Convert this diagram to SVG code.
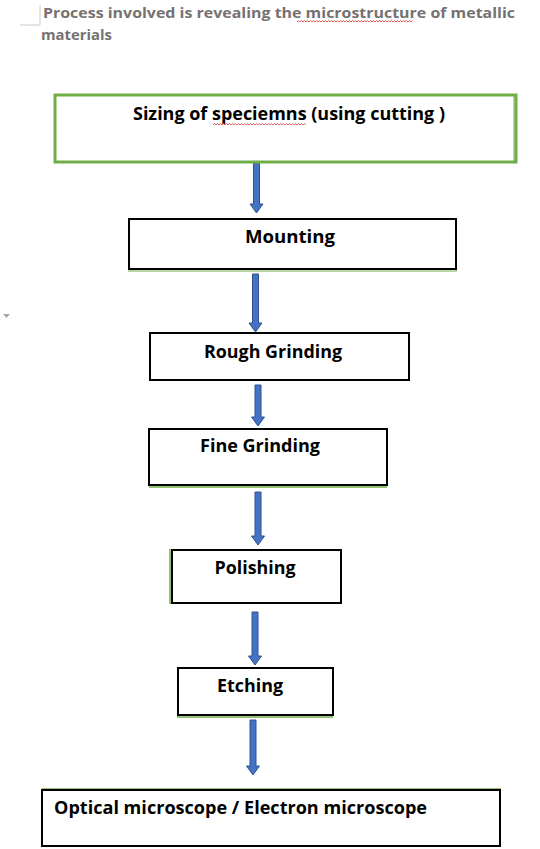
<svg xmlns="http://www.w3.org/2000/svg" width="540" height="849" viewBox="0 0 540 849">
<style>
.t{font-family:"Open Sans","Liberation Sans",Arial,sans-serif;font-weight:bold;font-size:18px;fill:#000}
.title{font-family:"Open Sans","Liberation Sans",Arial,sans-serif;font-weight:bold;font-size:15px;fill:#767171}
.box{fill:#fff;stroke:#000;stroke-width:2}
.g{stroke:#70AD47;fill:none}
.arr{fill:#4472C4;stroke:#2F528F;stroke-width:1}
.sq{fill:none;stroke:#E03030;stroke-width:0.8}
</style>
<rect width="540" height="849" fill="#fff"/>
<path d="M20,25 H40 V5" fill="none" stroke="#c8c8c8" stroke-width="1"/>
<path d="M3,314 H10 L6.5,318 Z" fill="#a6a6a6"/>
<g id="title">
<text class="title" x="43" y="18" textLength="472" lengthAdjust="spacingAndGlyphs">Process involved is revealing the microstructure of metallic</text>
<text class="title" x="41" y="40" textLength="71" lengthAdjust="spacingAndGlyphs">materials</text>
<path class="sq" d="M297,22 l1.5,-1.5 l1.5,1.5 l1.5,-1.5 l1.5,1.5 l1.5,-1.5 l1.5,1.5 l1.5,-1.5 l1.5,1.5 l1.5,-1.5 l1.5,1.5 l1.5,-1.5 l1.5,1.5 l1.5,-1.5 l1.5,1.5 l1.5,-1.5 l1.5,1.5 l1.5,-1.5 l1.5,1.5 l1.5,-1.5 l1.5,1.5 l1.5,-1.5 l1.5,1.5 l1.5,-1.5 l1.5,1.5 l1.5,-1.5 l1.5,1.5 l1.5,-1.5 l1.5,1.5 l1.5,-1.5 l1.5,1.5 l1.5,-1.5 l1.5,1.5 l1.5,-1.5 l1.5,1.5 l1.5,-1.5 l1.5,1.5 l1.5,-1.5 l1.5,1.5 l1.5,-1.5 l1.5,1.5 l1.5,-1.5 l1.5,1.5 l1.5,-1.5 l1.5,1.5 l1.5,-1.5 l1.5,1.5 l1.5,-1.5 l1.5,1.5 l1.5,-1.5 l1.5,1.5 l1.5,-1.5 l1.5,1.5 l1.5,-1.5 l1.5,1.5 l1.5,-1.5 l1.5,1.5 l1.5,-1.5 l1.5,1.5 l1.5,-1.5 l1.5,1.5 l1.5,-1.5 l1.5,1.5 l1.5,-1.5 l1.5,1.5 l1.5,-1.5 l1.5,1.5 l1.5,-1.5 l1.5,1.5 l1.5,-1.5 l1.5,1.5 l1.5,-1.5 l1.5,1.5 l1.5,-1.5 l1.5,1.5 l1.5,-1.5 l1.5,1.5 l1.5,-1.5"/>
</g>
<g id="connectors">
<path class="arr" d="M253.5,163 H259.5 V204 H263 L256.5,213 L250,204 H253.5 Z"/>
<path class="arr" d="M252.5,274 H258.5 V323 H262 L255.5,332 L249,323 H252.5 Z"/>
<path class="arr" d="M255,385 H261 V417 H264.5 L258,426 L251.5,417 H255 Z"/>
<path class="arr" d="M255,492 H261 V536 H264.5 L258,545 L251.5,536 H255 Z"/>
<path class="arr" d="M252,612 H258 V656 H261.5 L255,665 L248.5,656 H252 Z"/>
<path class="arr" d="M250,720 H256 V766 H259.5 L253,775 L246.5,766 H250 Z"/>
</g>
<g id="n1">
<rect x="55" y="95" width="461" height="67" fill="#fff" stroke="#70AD47" stroke-width="3"/>
<line class="g" x1="514" y1="96" x2="514" y2="161" stroke-width="1"/>
<text class="t" x="289" y="120" text-anchor="middle" textLength="312" lengthAdjust="spacingAndGlyphs">Sizing of speciemns (using cutting )</text>
<path class="sq" d="M213,125 l1.5,-1.5 l1.5,1.5 l1.5,-1.5 l1.5,1.5 l1.5,-1.5 l1.5,1.5 l1.5,-1.5 l1.5,1.5 l1.5,-1.5 l1.5,1.5 l1.5,-1.5 l1.5,1.5 l1.5,-1.5 l1.5,1.5 l1.5,-1.5 l1.5,1.5 l1.5,-1.5 l1.5,1.5 l1.5,-1.5 l1.5,1.5 l1.5,-1.5 l1.5,1.5 l1.5,-1.5 l1.5,1.5 l1.5,-1.5 l1.5,1.5 l1.5,-1.5 l1.5,1.5 l1.5,-1.5 l1.5,1.5 l1.5,-1.5 l1.5,1.5 l1.5,-1.5 l1.5,1.5 l1.5,-1.5 l1.5,1.5 l1.5,-1.5 l1.5,1.5 l1.5,-1.5 l1.5,1.5 l1.5,-1.5 l1.5,1.5 l1.5,-1.5 l1.5,1.5 l1.5,-1.5 l1.5,1.5 l1.5,-1.5 l1.5,1.5 l1.5,-1.5 l1.5,1.5 l1.5,-1.5 l1.5,1.5 l1.5,-1.5 l1.5,1.5 l1.5,-1.5 l1.5,1.5 l1.5,-1.5 l1.5,1.5 l1.5,-1.5 l1.5,1.5 l1.5,-1.5 l1.5,1.5"/>
</g>
<g id="n2">
<rect class="box" x="129" y="219" width="327" height="50"/>
<line class="g" x1="128" y1="271" x2="457" y2="271" stroke-width="1"/>
<text class="t" x="290" y="243" text-anchor="middle" textLength="90" lengthAdjust="spacingAndGlyphs">Mounting</text>
</g>
<g id="n3">
<rect class="box" x="150" y="333" width="259" height="47"/>
<text class="t" x="273" y="358" text-anchor="middle" textLength="138" lengthAdjust="spacingAndGlyphs">Rough Grinding</text>
</g>
<g id="n4">
<rect class="box" x="149" y="429" width="238" height="56"/>
<line class="g" x1="149" y1="487" x2="387" y2="487" stroke-width="1.5"/>
<text class="t" x="260" y="452" text-anchor="middle" textLength="120" lengthAdjust="spacingAndGlyphs">Fine Grinding</text>
</g>
<g id="n5">
<rect class="box" x="172" y="550" width="169" height="53"/>
<line class="g" x1="170" y1="549" x2="170" y2="604" stroke-width="1.5"/>
<text class="t" x="255" y="574" text-anchor="middle" textLength="81" lengthAdjust="spacingAndGlyphs">Polishing</text>
</g>
<g id="n6">
<rect class="box" x="178" y="668" width="155" height="47"/>
<line class="g" x1="177" y1="717" x2="333" y2="717" stroke-width="1.5"/>
<text class="t" x="250" y="692" text-anchor="middle" textLength="66" lengthAdjust="spacingAndGlyphs">Etching</text>
</g>
<g id="n7">
<line class="g" x1="42" y1="789" x2="501" y2="789" stroke-width="1.5"/>
<rect class="box" x="42" y="790" width="458" height="56"/>
<text class="t" x="54" y="814" textLength="373" lengthAdjust="spacingAndGlyphs">Optical microscope / Electron microscope</text>
</g>
</svg>
